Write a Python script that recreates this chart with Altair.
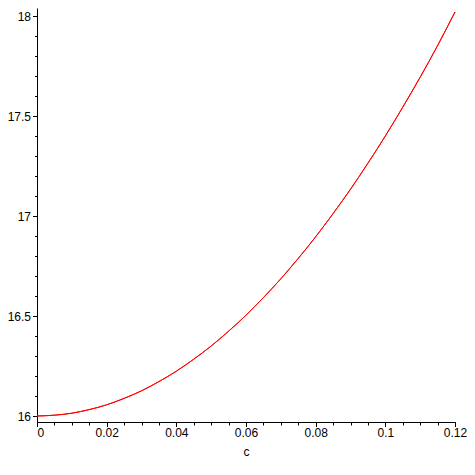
import altair as alt
import pandas as pd

c_vals = [0.0, 0.005, 0.01, 0.015, 0.02, 0.025, 0.03, 0.035, 0.04, 0.045, 0.05, 0.055,
          0.06, 0.065, 0.07, 0.075, 0.08, 0.085, 0.09, 0.095, 0.10, 0.105, 0.11, 0.115, 0.12]
y_vals = [16.000, 16.004, 16.014, 16.032, 16.056, 16.088, 16.126, 16.172, 16.224, 16.284,
          16.350, 16.424, 16.504, 16.592, 16.686, 16.788, 16.896, 17.012, 17.134, 17.264,
          17.400, 17.544, 17.694, 17.852, 18.020]

x_major = [0, 0.02, 0.04, 0.06, 0.08, 0.1, 0.12]
x_minor = [round(i * 0.005, 3) for i in range(25)]
y_major = [16, 16.5, 17, 17.5, 18]
y_minor = [round(16 + i * 0.1, 1) for i in range(21)]

df = pd.DataFrame({"c": c_vals, "v": y_vals})

FONT = "Liberation Sans"
xs = alt.Scale(domain=[0, 0.12], nice=False, zero=False)
ys = alt.Scale(domain=[15.97, 18.04], nice=False, zero=False)

base = alt.Chart(df)

minor = base.mark_line(color="#ff0000", strokeWidth=1, interpolate="monotone").encode(
    x=alt.X("c:Q", scale=xs, axis=alt.Axis(
        orient="bottom", values=x_minor, labels=False, domain=False, grid=False,
        ticks=True, tickSize=3, tickColor="black", title=None)),
    y=alt.Y("v:Q", scale=ys, axis=alt.Axis(
        orient="left", values=y_minor, labels=False, domain=True, domainColor="black",
        grid=False, ticks=True, tickSize=2.5, tickColor="black", title=None)),
)

major = base.mark_line(color="#ff0000", strokeWidth=1, interpolate="monotone").encode(
    x=alt.X("c:Q", scale=xs, axis=alt.Axis(
        orient="bottom", values=x_major, format=".2~f", domain=True, domainColor="black",
        grid=False, ticks=True, tickSize=4.5, tickColor="black",
        labelFont=FONT, labelFontSize=12, labelColor="black", labelPadding=1,
        labelAlign=alt.expr("datum.value == 0 ? 'left' : 'center'"),
        labelOverlap=False, labelFlush=False,
        title="c", titleFont=FONT, titleFontSize=12, titleFontWeight="normal",
        titleColor="black", titlePadding=8)),
    y=alt.Y("v:Q", scale=ys, axis=alt.Axis(
        orient="left", values=y_major, format="~g", domain=False, grid=False,
        ticks=True, tickSize=4.5, tickColor="black",
        labelFont=FONT, labelFontSize=12, labelColor="black", labelPadding=2,
        labelOverlap=False, labelFlush=False, title=None)),
)

chart = alt.layer(minor, major).resolve_axis(x="independent", y="independent").properties(
    width=418, height=414,
    autosize=alt.AutoSizeParams(type="none"),
    padding={"left": 29, "top": 0, "right": 12, "bottom": 41},
    background="white",
).configure_view(strokeWidth=0)

chart.save("out.html", embed_options={"renderer": "svg", "actions": False})
